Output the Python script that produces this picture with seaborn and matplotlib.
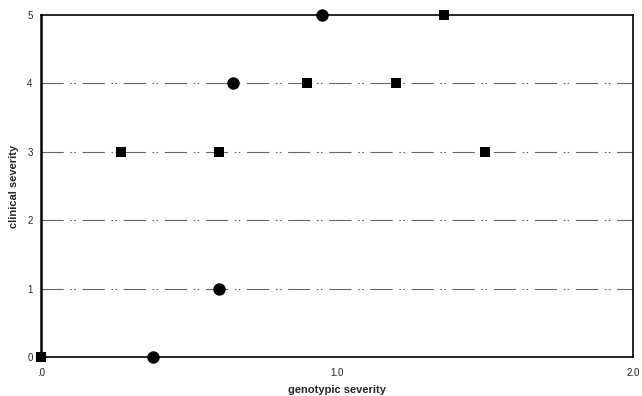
import matplotlib
matplotlib.use("Agg")
import matplotlib.pyplot as plt
import seaborn as sns
import pandas as pd
from matplotlib.ticker import FixedLocator, FixedFormatter

sns.set_style("white")
plt.rcParams['font.family'] = ['Liberation Sans', 'DejaVu Sans']

square_x = [0.0, 0.27, 0.60, 0.90, 1.20, 1.36, 1.50]
square_y = [0, 3, 3, 4, 4, 5, 3]
circle_x = [0.38, 0.60, 0.65, 0.95]
circle_y = [0, 1, 4, 5]

x_ticks = [0.0, 1.0, 2.0]
x_tick_labels = [".0", "1.0", "2.0"]
y_ticks = [0, 1, 2, 3, 4, 5]

df = pd.DataFrame({
    "x": square_x + circle_x,
    "y": square_y + circle_y,
    "kind": ["square"] * len(square_x) + ["circle"] * len(circle_x),
})

fig = plt.figure(figsize=(6.42, 3.96), dpi=100)
ax = fig.add_axes([41/642, 1 - 357/396, (633-41)/642, (357-15)/396])

# gridlines
for yv in y_ticks[1:5]:
    ax.axhline(yv, color="#666666", lw=0.8, dashes=(20, 6, 1.5, 2, 1.5, 6), zorder=1)

sq = df[df.kind == "square"]
ci = df[df.kind == "circle"]
sns.scatterplot(data=sq, x="x", y="y", marker="s", s=45, color="black",
                edgecolor="black", linewidth=0, ax=ax, zorder=3, clip_on=False, legend=False)
sns.scatterplot(data=ci, x="x", y="y", marker="o", s=80, color="black",
                edgecolor="black", linewidth=0, ax=ax, zorder=3, clip_on=False, legend=False)

ax.set_xlim(0, 2.0)
ax.set_ylim(0, 5)
ax.xaxis.set_major_locator(FixedLocator(x_ticks))
ax.xaxis.set_major_formatter(FixedFormatter(x_tick_labels))
ax.set_yticks(y_ticks)
ax.tick_params(axis="both", length=0, labelsize=7, pad=8)
ax.tick_params(axis="y", pad=6)
for s in ax.spines.values():
    s.set_visible(True)
    s.set_color("black")
    s.set_linewidth(1.2)
ax.spines["left"].set_linewidth(1.8)
ax.set_xlabel("genotypic severity", fontsize=8, fontweight="bold", labelpad=5)
ax.set_ylabel("clinical severity", fontsize=8, fontweight="bold", labelpad=6)
fig.savefig("out.png", dpi=100, facecolor="white")
